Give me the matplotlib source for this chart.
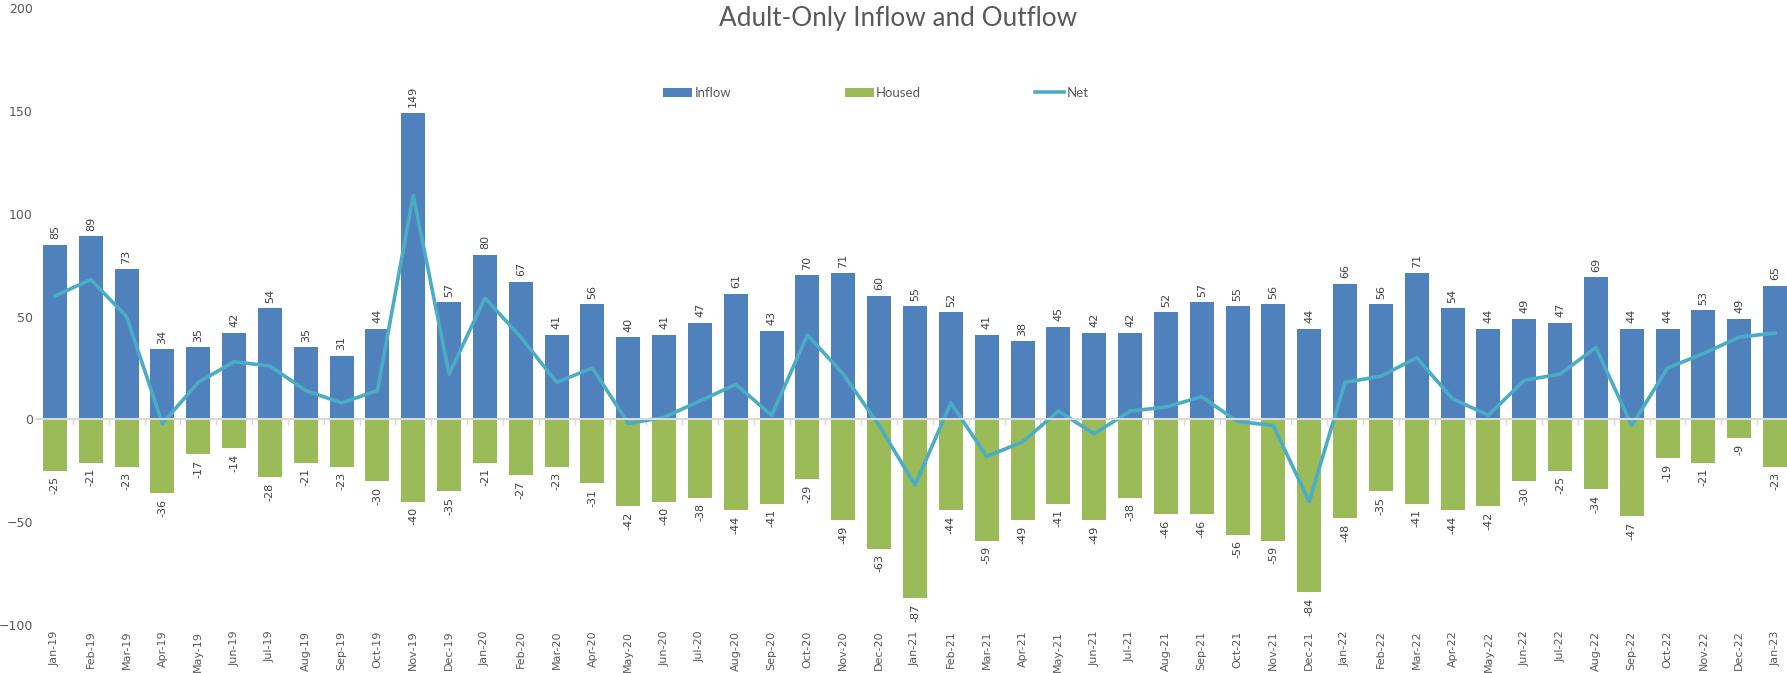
import matplotlib
matplotlib.use("Agg")
import matplotlib.pyplot as plt
import numpy as np

months = [
    "Jan-19", "Feb-19", "Mar-19", "Apr-19", "May-19", "Jun-19", "Jul-19", "Aug-19", "Sep-19", "Oct-19", "Nov-19", "Dec-19",
    "Jan-20", "Feb-20", "Mar-20", "Apr-20", "May-20", "Jun-20", "Jul-20", "Aug-20", "Sep-20", "Oct-20", "Nov-20", "Dec-20",
    "Jan-21", "Feb-21", "Mar-21", "Apr-21", "May-21", "Jun-21", "Jul-21", "Aug-21", "Sep-21", "Oct-21", "Nov-21", "Dec-21",
    "Jan-22", "Feb-22", "Mar-22", "Apr-22", "May-22", "Jun-22", "Jul-22", "Aug-22", "Sep-22", "Oct-22", "Nov-22", "Dec-22",
    "Jan-23",
]
inflow = [
    85, 89, 73, 34, 35, 42, 54, 35, 31, 44, 149, 57,
    80, 67, 41, 56, 40, 41, 47, 61, 43, 70, 71, 60,
    55, 52, 41, 38, 45, 42, 42, 52, 57, 55, 56, 44,
    66, 56, 71, 54, 44, 49, 47, 69, 44, 44, 53, 49,
    65,
]
housed = [
    -25, -21, -23, -36, -17, -14, -28, -21, -23, -30, -40, -35,
    -21, -27, -23, -31, -42, -40, -38, -44, -41, -29, -49, -63,
    -87, -44, -59, -49, -41, -49, -38, -46, -46, -56, -59, -84,
    -48, -35, -41, -44, -42, -30, -25, -34, -47, -19, -21, -9,
    -23,
]
net = [
    60, 68, 50, -2, 18, 28, 26, 14, 8, 14, 109, 22,
    59, 40, 18, 25, -2, 1, 9, 17, 2, 41, 22, -3,
    -32, 8, -18, -11, 4, -7, 4, 6, 11, -1, -3, -40,
    18, 21, 30, 10, 2, 19, 22, 35, -3, 25, 32, 40,
    42,
]

BLUE = "#4F81BD"
GREEN = "#9BBB59"
TEAL = "#4BACC6"
GREY = "#595959"

fig = plt.figure(figsize=(17.87, 6.73), dpi=100)
ax = fig.add_axes([37 / 1787, 0.0713, 1756 / 1787, 0.9167])

x = np.arange(len(months))
b1 = ax.bar(x, inflow, width=0.67, color=BLUE, label="Inflow", zorder=2)
b2 = ax.bar(x, housed, width=0.67, color=GREEN, label="Housed", zorder=2)
ln, = ax.plot(x, net, color=TEAL, lw=2.6, label="Net", zorder=3)

ax.bar_label(b1, padding=4, rotation=90, fontsize=8, color="#404040")
ax.bar_label(b2, padding=4, rotation=90, fontsize=8, color="#404040")

ax.set_xlim(-0.5, len(months) - 0.5)
ax.set_ylim(-100, 200)
ax.set_yticks(range(-100, 201, 50))
ax.tick_params(axis="y", length=0, pad=3, labelsize=9, labelcolor=GREY)

for s in ["top", "right", "left"]:
    ax.spines[s].set_visible(False)
ax.spines["bottom"].set_position(("data", 0))
ax.spines["bottom"].set_color("#D9D9D9")
ax.spines["bottom"].set_linewidth(1.5)
ax.spines["bottom"].set_zorder(4)
ax.set_xticks(x)
ax.set_xticklabels([])
ax.tick_params(axis="x", which="major", length=0)
ax.set_xticks(x[:-1] + 0.5, minor=True)
ax.tick_params(axis="x", which="minor", length=4, color="#D9D9D9", width=1)

sec = ax.secondary_xaxis(0)
sec.set_xticks(x)
sec.set_xticklabels(months, rotation=90, fontsize=8, color=GREY)
sec.tick_params(length=0, pad=4)
sec.spines["bottom"].set_visible(False)

fig.text(0.5025, 0.972, "Adult-Only Inflow and Outflow", ha="center", va="center",
         fontsize=18.8, color=GREY, family=["Lato", "DejaVu Sans"])

ax.legend(handles=[b1, b2, ln], loc="center", bbox_to_anchor=(0.49, 0.862),
          bbox_transform=fig.transFigure, ncol=3, frameon=False, columnspacing=8.6,
          handlelength=2.2, handletextpad=0.2, labelcolor=GREY,
          prop={"family": ["Lato", "DejaVu Sans"], "size": 9.5})

fig.savefig("out.png", dpi=100)
